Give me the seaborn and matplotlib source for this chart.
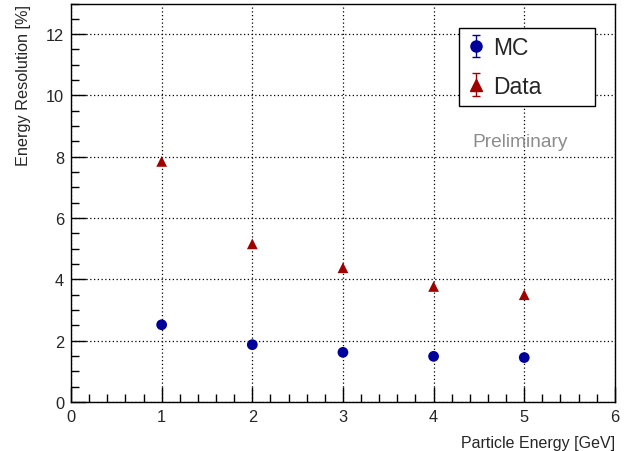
import numpy as np
import pandas as pd
import matplotlib
matplotlib.use("Agg")
import matplotlib.pyplot as plt
import seaborn as sns
from matplotlib.ticker import MultipleLocator

energy = [1, 2, 3, 4, 5]
mc_res = [2.52, 1.87, 1.62, 1.49, 1.45]
data_res = [7.85, 5.16, 4.38, 3.77, 3.50]
series_names = ["MC", "Data"]
colors = {"MC": "#00009a", "Data": "#a00000"}
markers = {"MC": "o", "Data": "^"}

df = pd.DataFrame({
    "Energy": energy * 2,
    "Resolution": mc_res + data_res,
    "Series": ["MC"] * len(energy) + ["Data"] * len(energy),
})

sns.set_style("white")
plt.rcParams["font.family"] = ["Liberation Sans", "DejaVu Sans"]

fig = plt.figure(figsize=(6.3, 4.52), dpi=100)
ax = fig.add_axes([0.1127, 0.1084, 0.976 - 0.1127, 0.990 - 0.1084])

sns.scatterplot(data=df, x="Energy", y="Resolution", hue="Series", style="Series",
                palette=colors, markers=markers, s=60, edgecolor="none",
                ax=ax, legend=False, zorder=3)

ax.set_xlim(0, 6)
ax.set_ylim(0, 13)
ax.xaxis.set_major_locator(MultipleLocator(1))
ax.xaxis.set_minor_locator(MultipleLocator(0.2))
ax.yaxis.set_major_locator(MultipleLocator(2))
ax.yaxis.set_minor_locator(MultipleLocator(0.5))
ax.tick_params(which="major", direction="in", length=11, width=1, labelsize=11.8,
               bottom=True, left=True, top=False, right=False, color="black", pad=5)
ax.tick_params(which="minor", direction="in", length=5.5, width=1,
               bottom=True, left=True, top=False, right=False, color="black")
ax.grid(True, which="major", linestyle=(0, (1, 2)), color="black", linewidth=0.9)
for sp in ax.spines.values():
    sp.set_color("black")
    sp.set_linewidth(1)

ax.set_xlabel("Particle Energy [GeV]", fontsize=11.5, loc="right", labelpad=8)
ax.set_ylabel("Energy Resolution [%]", fontsize=11.7, loc="top", labelpad=11)

# legend handles with error bars (ROOT-style)
handles = []
for name in series_names:
    h = ax.errorbar([np.nan], [np.nan], yerr=[np.nan], fmt=markers[name], color=colors[name],
                    markersize=8, capsize=3, elinewidth=1, capthick=1)
    handles.append(h)
leg = ax.legend(handles, series_names, loc="upper left",
                bbox_to_anchor=(0.713, 0.750, 0.25, 0.1885), mode="expand",
                fontsize=16.5, frameon=True, fancybox=False, borderpad=0.35,
                handletextpad=0.35, labelspacing=0.68, handlelength=0.8, borderaxespad=0)
leg.get_frame().set_edgecolor("black")
leg.get_frame().set_linewidth(1)
leg.get_frame().set_alpha(1)

ax.text(4.43, 8.5, "Preliminary", color="#8c8c8c", fontsize=13.8, ha="left", va="center")

fig.savefig("out.png", dpi=100)
